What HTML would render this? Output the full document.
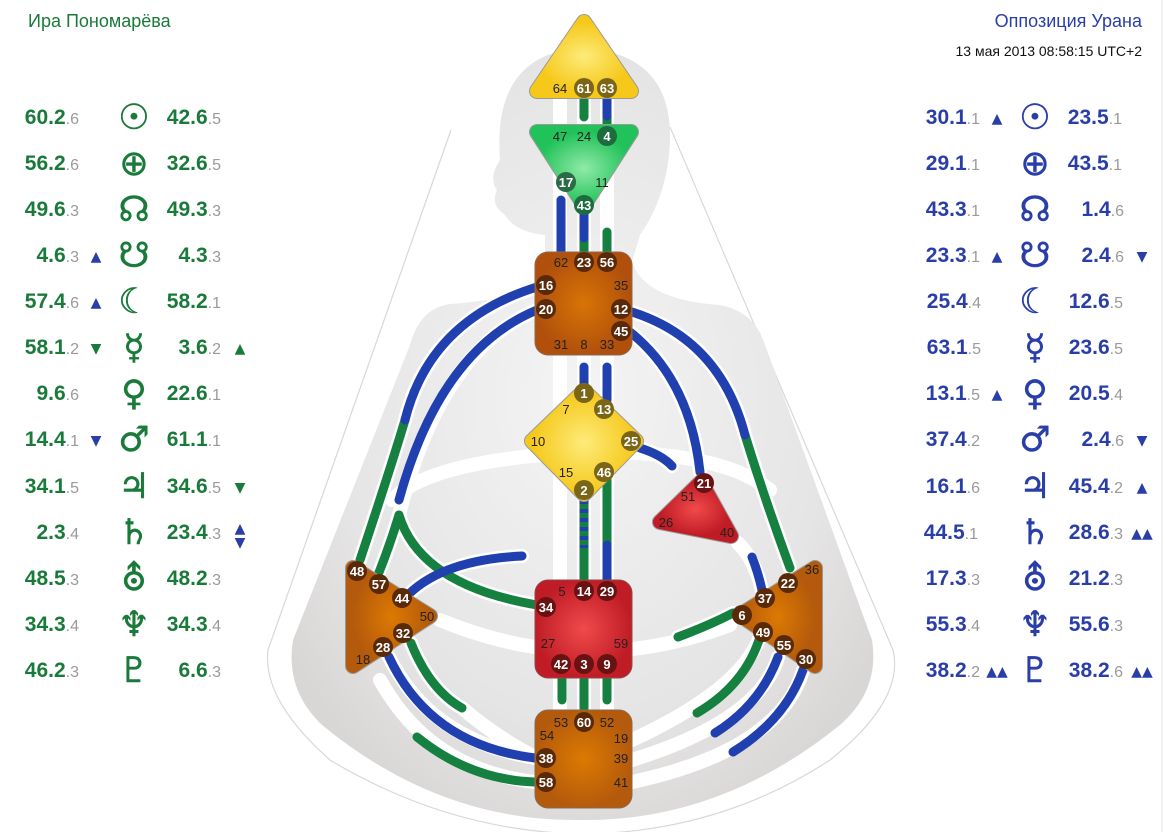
<!DOCTYPE html>
<html><head><meta charset="utf-8"><style>
html,body{margin:0;padding:0;background:#fff;}
svg{display:block}
.g{fill:#1a7a3a}.b{fill:#2a3ea8}
.n{font-family:"Liberation Sans",sans-serif;font-weight:bold;font-size:21px}
.s{font-weight:normal;font-size:16px;fill:#9a9a9a}
.sym{font-family:"DejaVu Sans",sans-serif;font-size:35px;text-anchor:middle;stroke-width:0.5}
.gt{font-family:"Liberation Sans Narrow","Liberation Sans",sans-serif;font-size:13px;text-anchor:middle;fill:#222}
.gw{font-family:"Liberation Sans Narrow","Liberation Sans",sans-serif;font-size:13px;text-anchor:middle;fill:#fff;font-weight:bold}
.ar{font-family:"DejaVu Sans",sans-serif;font-size:14px;text-anchor:middle}
</style></head><body>
<svg width="1165" height="832" viewBox="0 0 1165 832" xmlns="http://www.w3.org/2000/svg">
<defs>
<radialGradient id="yel"><stop offset="0" stop-color="#fdeb7a"/><stop offset="1" stop-color="#f6c81a"/></radialGradient>
<radialGradient id="grn"><stop offset="0" stop-color="#90eaa8"/><stop offset="1" stop-color="#22c25a"/></radialGradient>
<radialGradient id="brn"><stop offset="0" stop-color="#d87406"/><stop offset="1" stop-color="#b0500c"/></radialGradient>
<radialGradient id="red"><stop offset="0" stop-color="#f04a4a"/><stop offset="1" stop-color="#c01c26"/></radialGradient>
<radialGradient id="org"><stop offset="0" stop-color="#dc7a02"/><stop offset="1" stop-color="#b45a0c"/></radialGradient>
<radialGradient id="belly" cx="0.5" cy="0.45" r="0.6"><stop offset="0" stop-color="#f4f4f4"/><stop offset="0.7" stop-color="#e6e5e5"/><stop offset="1" stop-color="#d9d7d6"/></radialGradient>
</defs>
<line x1="1162" y1="0" x2="1162" y2="832" stroke="#e4e4e4" stroke-width="1"/>

<path d="M451,130 L268,650 Q262,700 330,760 Q450,832 584,834 Q720,832 830,760 Q905,700 893,650 L670,127" fill="none" stroke="#d8d8d8" stroke-width="1.2"/>

<path d="M545,235 Q515,232 505,215 Q490,205 497,190 Q488,178 500,160 Q492,55 580,48 Q672,52 670,140 Q668,195 640,235 L632,262 Q645,300 720,305 Q755,312 765,345 L872,640 Q880,690 840,725 Q720,822 580,820 Q440,822 322,725 Q285,690 293,640 L410,345 Q420,308 450,304 Q535,298 545,270 Z" fill="url(#belly)"/>

<g fill="none" stroke="#fff" stroke-width="14" stroke-linecap="round">
<path d="M392,500 Q430,460 584,452 Q720,450 770,490"/>
<path d="M440,620 Q584,680 730,625"/>
<line x1="560" y1="98" x2="560" y2="710"/><line x1="584" y1="98" x2="584" y2="710"/><line x1="607" y1="98" x2="607" y2="710"/>
<path d="M537,287 Q430,320 405,420 Q390,470 360,560"/>
<path d="M537,310 Q440,350 399,515 Q390,545 378,575"/>
<path d="M399,515 Q420,585 537,605"/>
<path d="M632,312 Q720,340 745,435 Q765,500 790,568"/>
<path d="M630,332 Q690,380 700,472"/>
<path d="M640,448 Q662,455 672,466"/>
<path d="M738,543 Q755,560 762,590"/>
<path d="M405,598 Q440,560 522,556"/>
<path d="M411,643 Q430,690 462,708 Q500,740 537,758"/>
<path d="M389,657 Q430,740 535,758"/>
<path d="M380,680 Q430,770 535,782"/>
<path d="M678,637 Q710,625 733,613"/>
<path d="M760,637 Q740,690 632,740"/>
<path d="M778,657 Q760,720 632,760"/>
<path d="M803,670 Q780,750 632,782"/>
</g>

<g fill="none" stroke-width="9" stroke-linecap="round">
<line x1="584" y1="98" x2="584" y2="117" stroke="#168040"/>
<line x1="607" y1="98" x2="607" y2="125" stroke="#168040"/>
<line x1="607" y1="98" x2="607" y2="116" stroke="#2040b0"/>
<line x1="561" y1="200" x2="561" y2="293" stroke="#2040b0"/>
<line x1="584" y1="210" x2="584" y2="252" stroke="#168040"/>
<line x1="584" y1="210" x2="584" y2="238" stroke="#2040b0"/>
<line x1="607" y1="232" x2="607" y2="260" stroke="#168040"/>
<line x1="584" y1="367" x2="584" y2="385" stroke="#2040b0"/>
<line x1="607" y1="367" x2="607" y2="400" stroke="#2040b0"/>
<line x1="584" y1="500" x2="584" y2="580" stroke="#168040"/>
<line x1="584" y1="500" x2="584" y2="548" stroke="#2040b0" stroke-dasharray="4 5" stroke-linecap="butt"/>
<line x1="607" y1="480" x2="607" y2="580" stroke="#168040"/>
<line x1="607" y1="545" x2="607" y2="580" stroke="#2040b0"/>
<line x1="562" y1="678" x2="562" y2="700" stroke="#168040"/>
<line x1="584" y1="678" x2="584" y2="712" stroke="#168040"/>
<line x1="607" y1="678" x2="607" y2="700" stroke="#168040"/>
<path d="M405,420 Q390,470 360,560" stroke="#168040"/>
<path d="M537,287 Q430,320 405,420" stroke="#2040b0"/>
<path d="M399,515 Q390,545 378,575" stroke="#168040"/>
<path d="M399,515 Q420,585 537,605" stroke="#168040"/>
<path d="M537,310 Q440,350 399,500" stroke="#2040b0"/>
<path d="M405,598 Q440,560 522,556" stroke="#2040b0"/>
<path d="M411,643 Q430,690 462,708" stroke="#168040"/>
<path d="M389,657 Q430,745 535,758" stroke="#2040b0"/>
<path d="M417,737 Q470,780 535,782" stroke="#168040"/>
<path d="M745,435 Q765,500 790,568" stroke="#168040"/>
<path d="M632,312 Q720,340 745,435" stroke="#2040b0"/>
<path d="M630,332 Q690,380 700,472" stroke="#2040b0"/>
<path d="M640,448 Q662,455 672,466" stroke="#2040b0"/>
<path d="M752,557 Q758,572 762,590" stroke="#2040b0"/>
<path d="M678,637 Q710,625 733,613" stroke="#168040"/>
<path d="M760,637 Q745,685 697,713" stroke="#168040"/>
<path d="M778,657 Q760,705 715,733" stroke="#2040b0"/>
<path d="M803,670 Q785,720 733,752" stroke="#2040b0"/>
</g>

<g stroke-linejoin="round">
<polygon points="584,22 537,91 631,91" fill="#888" stroke="#999" stroke-width="16"/>
<polygon points="584,22 537,91 631,91" fill="url(#yel)" stroke="url(#yel)" stroke-width="14"/>
<polygon points="537,132 631,132 584,205" fill="#888" stroke="#999" stroke-width="16"/>
<polygon points="537,132 631,132 584,205" fill="url(#grn)" stroke="url(#grn)" stroke-width="14"/>
<rect x="535" y="252" width="97" height="103" rx="13" fill="url(#brn)" stroke="#8a6a50" stroke-width="1"/>
<polygon points="584,391 636,441 584,494 532,441" fill="#888" stroke="#999" stroke-width="16"/>
<polygon points="584,391 636,441 584,494 532,441" fill="url(#yel)" stroke="url(#yel)" stroke-width="14"/>
<polygon points="701,482 660,522 731,536" fill="#888" stroke="#999" stroke-width="16"/>
<polygon points="701,482 660,522 731,536" fill="url(#red)" stroke="url(#red)" stroke-width="14"/>
<rect x="535" y="580" width="97" height="98" rx="13" fill="url(#red)" stroke="#8a4a4a" stroke-width="1"/>
<rect x="535" y="710" width="97" height="98" rx="13" fill="url(#org)" stroke="#8a6a50" stroke-width="1"/>
<polygon points="353,568 430,616 353,666" fill="#888" stroke="#999" stroke-width="16"/>
<polygon points="353,568 430,616 353,666" fill="url(#org)" stroke="url(#org)" stroke-width="14"/>
<polygon points="815,568 740,615 815,666" fill="#888" stroke="#999" stroke-width="16"/>
<polygon points="815,568 740,615 815,666" fill="url(#org)" stroke="url(#org)" stroke-width="14"/>
</g>

<g>
<text class="gt" x="560" y="93">64</text>
<circle cx="584" cy="88" r="10" fill="#7a6616"/><text class="gw" x="584" y="93">61</text>
<circle cx="607" cy="88" r="10" fill="#7a6616"/><text class="gw" x="607" y="93">63</text>
<text class="gt" x="560" y="141">47</text><text class="gt" x="584" y="141">24</text>
<circle cx="607" cy="136" r="10" fill="#1e6b3e"/><text class="gw" x="607" y="141">4</text>
<circle cx="566" cy="182" r="10" fill="#2a6a44"/><text class="gw" x="566" y="187">17</text>
<text class="gt" x="602" y="187">11</text>
<circle cx="584" cy="205" r="10" fill="#1e6b3e"/><text class="gw" x="584" y="210">43</text>
<text class="gt" x="561" y="267">62</text>
<circle cx="584" cy="262" r="10" fill="#5a2a08"/><text class="gw" x="584" y="267">23</text>
<circle cx="607" cy="262" r="10" fill="#5a2a08"/><text class="gw" x="607" y="267">56</text>
<circle cx="546" cy="285" r="10" fill="#5a2a08"/><text class="gw" x="546" y="290">16</text>
<text class="gt" x="621" y="290">35</text>
<circle cx="546" cy="309" r="10" fill="#5a2a08"/><text class="gw" x="546" y="314">20</text>
<circle cx="621" cy="309" r="10" fill="#5a2a08"/><text class="gw" x="621" y="314">12</text>
<circle cx="621" cy="331" r="10" fill="#5a2a08"/><text class="gw" x="621" y="336">45</text>
<text class="gt" x="561" y="349">31</text><text class="gt" x="584" y="349">8</text><text class="gt" x="607" y="349">33</text>
<circle cx="584" cy="393" r="10" fill="#7a6616"/><text class="gw" x="584" y="398">1</text>
<text class="gt" x="566" y="414">7</text>
<circle cx="604" cy="409" r="10" fill="#7a6616"/><text class="gw" x="604" y="414">13</text>
<text class="gt" x="538" y="446">10</text>
<circle cx="631" cy="441" r="10" fill="#7a6616"/><text class="gw" x="631" y="446">25</text>
<text class="gt" x="566" y="477">15</text>
<circle cx="604" cy="472" r="10" fill="#7a6616"/><text class="gw" x="604" y="477">46</text>
<circle cx="584" cy="490" r="10" fill="#7a6616"/><text class="gw" x="584" y="495">2</text>
<circle cx="704" cy="483" r="10" fill="#6a1212"/><text class="gw" x="704" y="488">21</text>
<text class="gt" x="688" y="501">51</text><text class="gt" x="666" y="527">26</text><text class="gt" x="727" y="537">40</text>
<text class="gt" x="562" y="596">5</text>
<circle cx="584" cy="591" r="10" fill="#6a1212"/><text class="gw" x="584" y="596">14</text>
<circle cx="607" cy="591" r="10" fill="#6a1212"/><text class="gw" x="607" y="596">29</text>
<circle cx="546" cy="607" r="10" fill="#6a1212"/><text class="gw" x="546" y="612">34</text>
<text class="gt" x="548" y="648">27</text><text class="gt" x="621" y="648">59</text>
<circle cx="561" cy="664" r="10" fill="#6a1212"/><text class="gw" x="561" y="669">42</text>
<circle cx="584" cy="664" r="10" fill="#6a1212"/><text class="gw" x="584" y="669">3</text>
<circle cx="607" cy="664" r="10" fill="#6a1212"/><text class="gw" x="607" y="669">9</text>
<text class="gt" x="561" y="727">53</text>
<circle cx="584" cy="722" r="10" fill="#5a2a08"/><text class="gw" x="584" y="727">60</text>
<text class="gt" x="607" y="727">52</text>
<text class="gt" x="547" y="740">54</text><text class="gt" x="621" y="743">19</text>
<circle cx="546" cy="758" r="10" fill="#5a2a08"/><text class="gw" x="546" y="763">38</text>
<text class="gt" x="621" y="763">39</text>
<circle cx="546" cy="782" r="10" fill="#5a2a08"/><text class="gw" x="546" y="787">58</text>
<text class="gt" x="621" y="787">41</text>
<circle cx="357" cy="571" r="10" fill="#5a2a08"/><text class="gw" x="357" y="576">48</text>
<circle cx="379" cy="584" r="10" fill="#5a2a08"/><text class="gw" x="379" y="589">57</text>
<circle cx="402" cy="598" r="10" fill="#5a2a08"/><text class="gw" x="402" y="603">44</text>
<text class="gt" x="427" y="621">50</text>
<circle cx="403" cy="633" r="10" fill="#5a2a08"/><text class="gw" x="403" y="638">32</text>
<circle cx="383" cy="647" r="10" fill="#5a2a08"/><text class="gw" x="383" y="652">28</text>
<text class="gt" x="363" y="664">18</text>
<text class="gt" x="812" y="574">36</text>
<circle cx="788" cy="583" r="10" fill="#5a2a08"/><text class="gw" x="788" y="588">22</text>
<circle cx="765" cy="598" r="10" fill="#5a2a08"/><text class="gw" x="765" y="603">37</text>
<circle cx="742" cy="615" r="10" fill="#5a2a08"/><text class="gw" x="742" y="620">6</text>
<circle cx="763" cy="632" r="10" fill="#5a2a08"/><text class="gw" x="763" y="637">49</text>
<circle cx="784" cy="645" r="10" fill="#5a2a08"/><text class="gw" x="784" y="650">55</text>
<circle cx="806" cy="659" r="10" fill="#5a2a08"/><text class="gw" x="806" y="664">30</text>
</g>

<text x="28" y="27" font-family="Liberation Sans,sans-serif" font-size="18" class="g">Ира Пономарёва</text>
<text x="1142" y="27" text-anchor="end" font-family="Liberation Sans,sans-serif" font-size="18" class="b">Оппозиция Урана</text>
<text x="1142" y="56" text-anchor="end" font-family="Liberation Sans,sans-serif" font-size="14" fill="#111">13 мая 2013 08:58:15 UTC+2</text>

<g class="g">
<g class="n" text-anchor="end">
<text x="79" y="124">60.2<tspan class="s">.6</tspan></text><text x="221" y="124">42.6<tspan class="s">.5</tspan></text>
<text x="79" y="170">56.2<tspan class="s">.6</tspan></text><text x="221" y="170">32.6<tspan class="s">.5</tspan></text>
<text x="79" y="216">49.6<tspan class="s">.3</tspan></text><text x="221" y="216">49.3<tspan class="s">.3</tspan></text>
<text x="79" y="262">4.6<tspan class="s">.3</tspan></text><text x="221" y="262">4.3<tspan class="s">.3</tspan></text>
<text x="79" y="308">57.4<tspan class="s">.6</tspan></text><text x="221" y="308">58.2<tspan class="s">.1</tspan></text>
<text x="79" y="354">58.1<tspan class="s">.2</tspan></text><text x="221" y="354">3.6<tspan class="s">.2</tspan></text>
<text x="79" y="400">9.6<tspan class="s">.6</tspan></text><text x="221" y="400">22.6<tspan class="s">.1</tspan></text>
<text x="79" y="446">14.4<tspan class="s">.1</tspan></text><text x="221" y="446">61.1<tspan class="s">.1</tspan></text>
<text x="79" y="493">34.1<tspan class="s">.5</tspan></text><text x="221" y="493">34.6<tspan class="s">.5</tspan></text>
<text x="79" y="539">2.3<tspan class="s">.4</tspan></text><text x="221" y="539">23.4<tspan class="s">.3</tspan></text>
<text x="79" y="585">48.5<tspan class="s">.3</tspan></text><text x="221" y="585">48.2<tspan class="s">.3</tspan></text>
<text x="79" y="631">34.3<tspan class="s">.4</tspan></text><text x="221" y="631">34.3<tspan class="s">.4</tspan></text>
<text x="79" y="677">46.2<tspan class="s">.3</tspan></text><text x="221" y="677">6.6<tspan class="s">.3</tspan></text>
</g>
<g class="sym" stroke="#1a7a3a">
<text x="134" y="129">☉</text><text x="134" y="175">⊕</text><text x="134" y="221">☊</text><text x="134" y="267">☋</text>
<text x="134" y="313">☾</text><text x="134" y="359">☿</text><text x="134" y="405">♀</text><text x="134" y="451">♂</text>
<text x="134" y="498">♃</text><text x="134" y="544">♄</text><text x="134" y="590">⛢</text><text x="134" y="636">♆</text><text x="134" y="682">♇</text>
</g>
<g class="ar">
<text x="96" y="261" class="b">▲</text><text x="96" y="307" class="b">▲</text>
<text x="96" y="353">▼</text><text x="240" y="353">▲</text>
<text x="96" y="445" class="b">▼</text>
<text x="240" y="492">▼</text>
<text x="240" y="533" class="b">▲</text><text x="240" y="547" class="b">▼</text>
</g>
</g>

<g class="b">
<g class="n" text-anchor="end">
<text x="980" y="124">30.1<tspan class="s">.1</tspan></text><text x="1122" y="124">23.5<tspan class="s">.1</tspan></text>
<text x="980" y="170">29.1<tspan class="s">.1</tspan></text><text x="1122" y="170">43.5<tspan class="s">.1</tspan></text>
<text x="980" y="216">43.3<tspan class="s">.1</tspan></text><text x="1124" y="216">1.4<tspan class="s">.6</tspan></text>
<text x="980" y="262">23.3<tspan class="s">.1</tspan></text><text x="1124" y="262">2.4<tspan class="s">.6</tspan></text>
<text x="981" y="308">25.4<tspan class="s">.4</tspan></text><text x="1123" y="308">12.6<tspan class="s">.5</tspan></text>
<text x="981" y="354">63.1<tspan class="s">.5</tspan></text><text x="1123" y="354">23.6<tspan class="s">.5</tspan></text>
<text x="980" y="400">13.1<tspan class="s">.5</tspan></text><text x="1123" y="400">20.5<tspan class="s">.4</tspan></text>
<text x="980" y="446">37.4<tspan class="s">.2</tspan></text><text x="1124" y="446">2.4<tspan class="s">.6</tspan></text>
<text x="980" y="493">16.1<tspan class="s">.6</tspan></text><text x="1123" y="493">45.4<tspan class="s">.2</tspan></text>
<text x="978" y="539">44.5<tspan class="s">.1</tspan></text><text x="1123" y="539">28.6<tspan class="s">.3</tspan></text>
<text x="980" y="585">17.3<tspan class="s">.3</tspan></text><text x="1123" y="585">21.2<tspan class="s">.3</tspan></text>
<text x="980" y="631">55.3<tspan class="s">.4</tspan></text><text x="1123" y="631">55.6<tspan class="s">.3</tspan></text>
<text x="980" y="677">38.2<tspan class="s">.2</tspan></text><text x="1123" y="677">38.2<tspan class="s">.6</tspan></text>
</g>
<g class="sym" stroke="#2a3ea8">
<text x="1035" y="129">☉</text><text x="1035" y="175">⊕</text><text x="1035" y="221">☊</text><text x="1035" y="267">☋</text>
<text x="1035" y="313">☾</text><text x="1035" y="359">☿</text><text x="1035" y="405">♀</text><text x="1035" y="451">♂</text>
<text x="1035" y="498">♃</text><text x="1035" y="544">♄</text><text x="1035" y="590">⛢</text><text x="1035" y="636">♆</text><text x="1035" y="682">♇</text>
</g>
<g class="ar">
<text x="997" y="123">▲</text><text x="997" y="261">▲</text><text x="997" y="399">▲</text>
<text x="1142" y="261">▼</text><text x="1142" y="445">▼</text><text x="1142" y="492">▲</text>
<text x="1142" y="538">▲▲</text>
<text x="997" y="676">▲▲</text><text x="1142" y="676">▲▲</text>
</g>
</g>
</svg>
</body></html>
